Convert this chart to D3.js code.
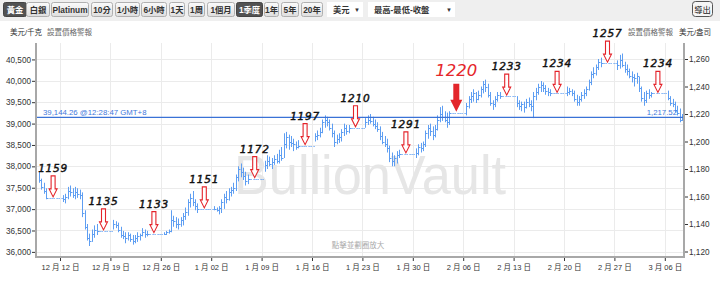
<!DOCTYPE html>
<html><head><meta charset="utf-8">
<script src="https://cdn.jsdelivr.net/npm/d3@7"></script>
<style>
body{margin:0;background:#fff;}
svg{display:block;font-family:"Liberation Sans","Noto Sans CJK TC",sans-serif;}
</style></head>
<body><svg id="c" width="720" height="284"></svg>
<script>
// ---------------- DATA ----------------
const tradingDays = ["2016-12-08","2016-12-09",
 "2016-12-12","2016-12-13","2016-12-14","2016-12-15","2016-12-16",
 "2016-12-19","2016-12-20","2016-12-21","2016-12-22","2016-12-23",
 "2016-12-26","2016-12-27","2016-12-28","2016-12-29","2016-12-30",
 "2017-01-02","2017-01-03","2017-01-04","2017-01-05","2017-01-06",
 "2017-01-09","2017-01-10","2017-01-11","2017-01-12","2017-01-13",
 "2017-01-16","2017-01-17","2017-01-18","2017-01-19","2017-01-20",
 "2017-01-23","2017-01-24","2017-01-25","2017-01-26","2017-01-27",
 "2017-01-30","2017-01-31","2017-02-01","2017-02-02","2017-02-03",
 "2017-02-06","2017-02-07","2017-02-08","2017-02-09","2017-02-10",
 "2017-02-13","2017-02-14","2017-02-15","2017-02-16","2017-02-17",
 "2017-02-20","2017-02-21","2017-02-22","2017-02-23","2017-02-24",
 "2017-02-27","2017-02-28","2017-03-01","2017-03-02","2017-03-03",
 "2017-03-06","2017-03-07","2017-03-08"];
// 8-hour bars per trading day: [high, low, close] in USD/oz
const hlc = [
 [[1178,1170,1172]],
 [[1173,1165,1167],[1170,1162,1164],[1166,1158,1159]],
 [[1161,1156,1158],[1162,1155,1160],[1167,1158,1164]],
 [[1168,1160,1163],[1166,1159,1161],[1167,1158,1163]],
 [[1166,1159,1162],[1165,1158,1161],[1163,1145,1148]],
 [[1150,1136,1138],[1140,1128,1130],[1133,1124,1128]],
 [[1136,1127,1133],[1139,1130,1136],[1140,1132,1135]],
 [[1143,1136,1140],[1142,1137,1139],[1141,1134,1136]],
 [[1138,1130,1132],[1135,1129,1131],[1134,1126,1130]],
 [[1134,1128,1132],[1133,1127,1129],[1132,1125,1128]],
 [[1132,1126,1130],[1134,1127,1131],[1133,1128,1132]],
 [[1137,1131,1134],[1136,1130,1133],[1135,1131,1133]],
 [[1134,1132,1133],[1135,1132,1134],[1136,1133,1135]],
 [[1150,1134,1143],[1146,1138,1142],[1145,1137,1140]],
 [[1144,1136,1140],[1145,1138,1143],[1148,1139,1146]],
 [[1152,1143,1149],[1158,1146,1156],[1162,1152,1159]],
 [[1164,1153,1156],[1158,1150,1153],[1155,1148,1151]],
 [[1153,1150,1151],[1152,1149,1150],[1153,1147,1152]],
 [[1158,1148,1156],[1162,1151,1160],[1164,1155,1158]],
 [[1166,1157,1163],[1167,1160,1165],[1170,1162,1166]],
 [[1176,1164,1174],[1182,1171,1180],[1184,1174,1178]],
 [[1181,1172,1175],[1178,1168,1171],[1176,1169,1173]],
 [[1186,1178,1183],[1190,1180,1186],[1189,1182,1184]],
 [[1188,1180,1185],[1190,1183,1187],[1191,1184,1186]],
 [[1194,1184,1190],[1196,1186,1188],[1206,1188,1198]],
 [[1207,1195,1203],[1205,1194,1200],[1204,1196,1199]],
 [[1202,1193,1198],[1200,1194,1196],[1201,1195,1197]],
 [[1206,1200,1204],[1208,1201,1205],[1210,1203,1207]],
 [[1216,1206,1214],[1219,1210,1216],[1218,1211,1214]],
 [[1216,1208,1210],[1213,1203,1206],[1208,1196,1200]],
 [[1205,1198,1202],[1206,1199,1203],[1209,1200,1207]],
 [[1213,1204,1210],[1212,1205,1208],[1212,1206,1210]],
 [[1217,1210,1214],[1219,1212,1216],[1220,1213,1215]],
 [[1218,1211,1213],[1216,1209,1211],[1214,1207,1209]],
 [[1211,1201,1204],[1207,1198,1200],[1204,1196,1198]],
 [[1202,1192,1195],[1197,1185,1188],[1192,1182,1186]],
 [[1190,1182,1188],[1193,1184,1190],[1194,1188,1191]],
 [[1195,1188,1192],[1198,1190,1196],[1199,1192,1195]],
 [[1200,1193,1198],[1208,1196,1206],[1212,1202,1210]],
 [[1213,1204,1208],[1211,1201,1205],[1212,1203,1209]],
 [[1219,1208,1216],[1225,1214,1220],[1226,1215,1218]],
 [[1222,1214,1216],[1221,1210,1214],[1222,1212,1221]],
 [[1228,1219,1226],[1233,1224,1231],[1236,1228,1233]],
 [[1238,1229,1235],[1236,1228,1231],[1237,1230,1234]],
 [[1240,1232,1238],[1244,1235,1242],[1245,1236,1240]],
 [[1242,1232,1234],[1236,1226,1228],[1230,1223,1227]],
 [[1233,1225,1231],[1236,1229,1234],[1236,1231,1233]],
 [[1233,1225,1228],[1230,1223,1226],[1229,1222,1227]],
 [[1229,1221,1225],[1231,1224,1229],[1232,1225,1227]],
 [[1230,1222,1226],[1236,1217,1233],[1239,1230,1236]],
 [[1242,1234,1240],[1244,1236,1241],[1243,1236,1239]],
 [[1241,1234,1237],[1239,1233,1236],[1238,1233,1235]],
 [[1240,1233,1236],[1239,1234,1237],[1238,1233,1235]],
 [[1237,1229,1231],[1234,1226,1229],[1233,1226,1231]],
 [[1236,1229,1234],[1238,1231,1235],[1240,1233,1238]],
 [[1245,1237,1243],[1251,1241,1249],[1254,1246,1250]],
 [[1256,1248,1254],[1260,1252,1258],[1261,1254,1257]],
 [[1259,1252,1256],[1263,1253,1259],[1264,1254,1256]],
 [[1258,1250,1253],[1256,1248,1251],[1253,1246,1248]],
 [[1251,1243,1247],[1249,1240,1246],[1250,1242,1248]],
 [[1247,1236,1239],[1240,1229,1232],[1236,1226,1230]],
 [[1237,1228,1235],[1238,1231,1234],[1236,1232,1235]],
 [[1237,1230,1232],[1233,1226,1228],[1231,1225,1227]],
 [[1229,1221,1223],[1226,1219,1221],[1224,1214,1216]],
 [[1220,1215,1217.52]]
];
const kgTicks = [36000,36500,37000,37500,38000,38500,39000,39500,40000,40500];
const ozTicks = [1120,1140,1160,1180,1200,1220,1240,1260];
const dateTicks = ["2016-12-12","2016-12-19","2016-12-26","2017-01-02","2017-01-09","2017-01-16","2017-01-23","2017-01-30","2017-02-06","2017-02-13","2017-02-20","2017-02-27","2017-03-06"];
const noteLabels = ["1159","1135","1133","1151","1172","1197","1210","1291","1220","1233","1234","1257","1234"];
const noteDates = ["2016-12-11","2016-12-18","2016-12-25","2017-01-01","2017-01-08","2017-01-15","2017-01-22","2017-01-29","2017-02-05","2017-02-12","2017-02-19","2017-02-26","2017-03-05"];
const noteHighlight = "1220";
const currentKg = 39144.26, currentOz = 1217.52, currentTime = "12:28:47 GMT+8";
const metalButtons = ["黃金","白銀","Platinum","10分","1小時","6小時","1天","1周","1個月","1季度","1年","5年","20年"];
const selectedButtons = ["黃金","1季度"];

// ---------------- CHART ----------------
const svg = d3.select("#c");
const parse = d3.timeParse("%Y-%m-%d");
const OZ_PER_KG = 32.1507466;
const L = 36, R = 684, T = 43, B = 257;
const x = d3.scaleTime().domain([new Date(2016,11,8,16), new Date(2017,2,8,16)]).range([L, R]);
const y = d3.scaleLinear().domain([1116, 1271.64]).range([B, T]);
const yKg = d3.scaleLinear().domain(y.domain().map(v => v * OZ_PER_KG)).range([B, T]);

// header
svg.append("rect").attr("x",0).attr("y",0).attr("width",720).attr("height",21).attr("fill","#efefef");
const defs = svg.append("defs");
const g1 = defs.append("linearGradient").attr("id","btn").attr("x1",0).attr("y1",0).attr("x2",0).attr("y2",1);
g1.append("stop").attr("offset","0%").attr("stop-color","#fbfbfb");
g1.append("stop").attr("offset","100%").attr("stop-color","#dedede");
const btnBoxes = [[3,23],[26,23],[51,37],[91,21],[115,24],[141,25],[169,15],[188,16],[207,27],[236,26],[264,14],[281,17],[301,21]];
metalButtons.forEach((lab,i) => {
  const [bx,bw] = btnBoxes[i];
  const sel = selectedButtons.includes(lab);
  svg.append("rect").attr("x",bx+0.5).attr("y",2.5).attr("width",bw).attr("height",14).attr("rx",2)
    .attr("fill", sel ? "#525252" : "url(#btn)").attr("stroke", sel ? "#444" : "#b0b0b0");
  svg.append("text").attr("x",bx+0.5+bw/2).attr("y",13).attr("text-anchor","middle")
    .attr("font-size",8.3).attr("font-weight","bold").attr("fill", sel ? "#fff" : "#333").text(lab);
});
// dropdowns
[[327,36,"美元"],[368,87,"最高-最低-收盤"]].forEach(([bx,bw,lab]) => {
  svg.append("rect").attr("x",bx).attr("y",2).attr("width",bw).attr("height",15).attr("fill","#fff");
  svg.append("text").attr("x",bx+6).attr("y",13).attr("font-size",8.3).attr("font-weight","bold").attr("fill","#333").text(lab);
  svg.append("text").attr("x",bx+bw-6).attr("y",12).attr("text-anchor","middle").attr("font-size",6).attr("fill","#333").text("▼");
});
svg.append("rect").attr("x",692.5).attr("y",1.5).attr("width",20).attr("height",15).attr("rx",3).attr("fill","#f6f6f6").attr("stroke","#555");
svg.append("text").attr("x",702.5).attr("y",12.5).attr("text-anchor","middle").attr("font-size",8.3).attr("fill","#222").text("導出");

// unit labels
svg.append("text").attr("x",10).attr("y",35).attr("font-size",7.5).attr("fill","#333").text("美元/千克");
svg.append("text").attr("x",47).attr("y",35).attr("font-size",7.5).attr("fill","#666").text("設置價格警報");
svg.append("text").attr("x",673).attr("y",35).attr("text-anchor","end").attr("font-size",7.5).attr("fill","#666").text("設置價格警報");
svg.append("text").attr("x",711).attr("y",35).attr("text-anchor","end").attr("font-size",7.5).attr("fill","#333").text("美元/盎司");

// grid
const tickDates = dateTicks.map(parse);
svg.append("g").selectAll("line").data(tickDates).join("line")
  .attr("x1",d=>Math.round(x(d))+0.5).attr("x2",d=>Math.round(x(d))+0.5).attr("y1",T).attr("y2",B)
  .attr("stroke","#ebebeb");
svg.append("g").selectAll("line").data(kgTicks).join("line")
  .attr("x1",L).attr("x2",R).attr("y1",d=>Math.round(yKg(d))+0.5).attr("y2",d=>Math.round(yKg(d))+0.5)
  .attr("stroke","#ebebeb");

// watermark
svg.append("text").attr("x",234).attr("y",194).attr("font-size",55).attr("fill","#e6e6e6")
  .attr("textLength",272).attr("lengthAdjust","spacingAndGlyphs").text("BullionVault");
svg.append("text").attr("x",358).attr("y",248).attr("text-anchor","middle").attr("font-size",7.5).attr("fill","#aaa").text("點擊並劃圈放大");

// bars
const bars = [];
tradingDays.forEach((ds,i) => {
  const d = parse(ds);
  const list = hlc[i];
  const off = i === 0 ? 3 - list.length : 0;
  list.forEach((b,j) => bars.push({t:d3.timeHour.offset(d, 10 + 8*(j+off)), h:b[0], l:b[1], c:b[2]}));
});
const allBars = [];
bars.forEach((b,i) => {
  allBars.push(b);
  const nxt = bars[i+1];
  if (nxt) {
    let t = d3.timeHour.offset(b.t, 8);
    while (t < nxt.t - 3600e3) { allBars.push({t, h:b.c, l:b.c, c:b.c}); t = d3.timeHour.offset(t, 8); }
  }
});
const barCol = "#5e9ef2";
const gb = svg.append("g");
allBars.forEach(b => {
  const px = Math.round(x(b.t));
  const yc = Math.round(y(b.c)) + 0.5;
  if (b.h !== b.l) {
    gb.append("line").attr("x1",px+0.5).attr("x2",px+0.5).attr("y1",y(b.h)).attr("y2",y(b.l))
      .attr("stroke",barCol).attr("stroke-width",1);
    gb.append("line").attr("x1",px+1).attr("x2",px+2.5).attr("y1",yc).attr("y2",yc)
      .attr("stroke",barCol).attr("stroke-width",1);
  } else {
    gb.append("line").attr("x1",px+0.5).attr("x2",px+1.7).attr("y1",yc).attr("y2",yc)
      .attr("stroke",barCol).attr("stroke-width",1);
  }
});

// current price line
const cy = y(currentOz);
svg.append("line").attr("x1",L).attr("x2",R).attr("y1",cy).attr("y2",cy).attr("stroke","#3a72d6").attr("stroke-width",1.3);
svg.append("text").attr("x",43).attr("y",cy-2).attr("font-size",7.8).attr("fill","#3f78dc")
  .text(d3.format(",.2f")(currentKg) + " @" + currentTime);
svg.append("text").attr("x",677).attr("y",cy-2).attr("text-anchor","end").attr("font-size",7.8).attr("fill","#3f78dc")
  .text(d3.format(",.2f")(currentOz));

// axes
const axG = svg.append("g");
axG.append("line").attr("x1",L).attr("x2",L).attr("y1",T).attr("y2",B+1).attr("stroke","#a8a8a8").attr("stroke-width",2);
axG.append("line").attr("x1",R).attr("x2",R).attr("y1",T).attr("y2",B+1).attr("stroke","#a8a8a8").attr("stroke-width",2);
axG.append("line").attr("x1",L-1).attr("x2",R+1).attr("y1",B).attr("y2",B).attr("stroke","#a8a8a8").attr("stroke-width",2);

const leftAxis = svg.append("g").attr("transform",`translate(${L-1},0)`)
  .call(d3.axisLeft(yKg).tickValues(kgTicks).tickFormat(d3.format(",")).tickSize(3).tickPadding(1));
const rightAxis = svg.append("g").attr("transform",`translate(${R+1},0)`)
  .call(d3.axisRight(y).tickValues(ozTicks).tickFormat(d3.format(",")).tickSize(3).tickPadding(1));
const fmtX = d => `${d.getMonth()+1} 月 ${d3.timeFormat("%d")(d)} 日`;
const bottomAxis = svg.append("g").attr("transform",`translate(0,${B+1})`)
  .call(d3.axisBottom(x).tickValues(tickDates).tickFormat(fmtX).tickSize(3).tickPadding(4));
[leftAxis,rightAxis,bottomAxis].forEach(a => {
  a.select(".domain").remove();
  a.selectAll(".tick line").attr("stroke","#333");
  a.selectAll("text").attr("fill","#333").attr("font-size",8.2)
    .attr("font-family",'"Liberation Sans","Noto Sans CJK TC",sans-serif');
});
bottomAxis.selectAll("text").attr("font-size",7.5);

// annotations
const lastCloseBefore = t => { let c = null; bars.forEach(b => { if (b.t < t) c = b.c; }); return c; };
const na = svg.append("g");
noteLabels.forEach((lab,i) => {
  const sun = d3.timeHour.offset(parse(noteDates[i]), 6);
  const cx = x(sun) - 1.5;
  const tip = y(lastCloseBefore(sun)) - 1;
  if (i === noteLabels.indexOf(noteHighlight) && lab === noteHighlight) {
    const top = tip - 28;
    na.append("path").attr("d",`M${cx-3},${top}L${cx+3},${top}L${cx+3},${tip-12}L${cx+6},${tip-12}L${cx},${tip}L${cx-6},${tip-12}L${cx-3},${tip-12}Z`)
      .attr("fill","#e3262b");
    na.append("text").attr("x",cx).attr("y",tip-36).attr("text-anchor","middle")
      .attr("font-family","DejaVu Sans").attr("font-style","italic").attr("font-size",16.5).attr("fill","#e5262b").text(lab);
  } else {
    const top = tip - 21;
    na.append("path").attr("d",`M${cx-2},${top}L${cx+2},${top}L${cx+2},${tip-8}L${cx+4},${tip-8}L${cx},${tip}L${cx-4},${tip-8}L${cx-2},${tip-8}Z`)
      .attr("fill","#fff").attr("stroke","#e4232a").attr("stroke-width",1.1);
    na.append("text").attr("x",cx).attr("y",tip-25).attr("text-anchor","middle")
      .attr("font-family","DejaVu Sans").attr("font-style","italic")
      .attr("font-size",10.5).attr("letter-spacing",0.8).attr("fill","#111")
      .attr("stroke","#111").attr("stroke-width",0.45).text(lab);
  }
});
</script>
</body></html>
